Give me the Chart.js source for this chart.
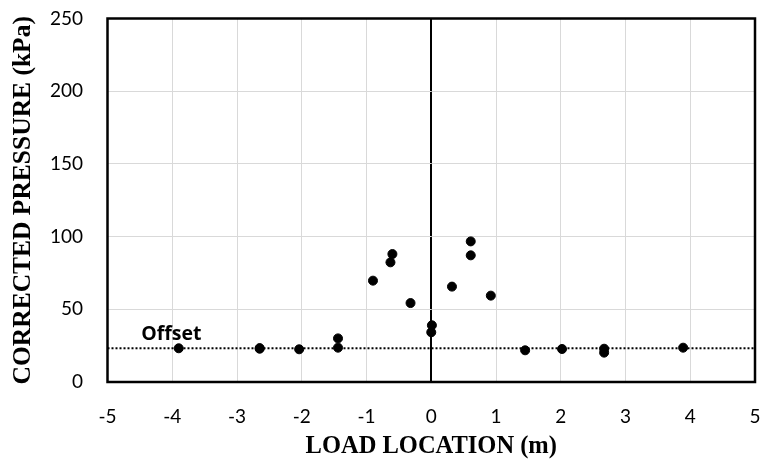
<!DOCTYPE html>
<html><head><meta charset="utf-8">
<script src="https://cdn.jsdelivr.net/npm/chart.js@4"></script>
<style>html,body{margin:0;padding:0;background:#fff}#wrap{width:763px;height:463px}</style>
</head><body><div id="wrap"><canvas id="c" width="763" height="463"></canvas></div>
<script>
const loadLocation = [-3.9, -2.65, -2.65, -2.04, -1.44, -1.44, -0.90, -0.63, -0.60, -0.32, 0.0, 0.01, 0.32, 0.61, 0.61, 0.92, 1.45, 2.02, 2.67, 2.67, 3.89];
const pressure     = [23.2, 22.9, 23.3, 22.5, 30.0, 23.6, 69.7, 82.3, 88.0, 54.3, 34.2, 39.0, 65.6, 96.7, 87.1, 59.4, 21.8, 22.7, 22.9, 20.2, 23.6];
const offsetX = [-5, 5];
const offsetY = [23.2, 23.2];
const offsetLabel = "Offset";
const xTicks = [-5,-4,-3,-2,-1,0,1,2,3,4,5];
const yTicks = [0,50,100,150,200,250];

const tickFont = {family: "Lato, 'Open Sans', sans-serif", size: 19};

function zeroPad(s) { s.paddingTop = 0; s.paddingBottom = 0; s.paddingLeft = 0; s.paddingRight = 0; }

const frame = {
  id: 'frame',
  afterDatasetsDraw(chart) {
    const {ctx, chartArea: a, scales} = chart;
    ctx.save();
    ctx.strokeStyle = '#000';
    ctx.lineWidth = 2.5;
    ctx.strokeRect(a.left, a.top, a.right - a.left, a.bottom - a.top);
    ctx.fillStyle = '#000';
    ctx.font = "bold 19.5px 'Open Sans', Lato, sans-serif";
    ctx.textBaseline = 'alphabetic';
    ctx.textAlign = 'left';
    ctx.fillText(offsetLabel, scales.x.getPixelForValue(-4.48), scales.y.getPixelForValue(offsetY[0]) - 8);
    ctx.restore();
  }
};

new Chart(document.getElementById('c'), {
  type: 'scatter',
  data: {
    datasets: [
      {
        data: loadLocation.map((x, i) => ({x, y: pressure[i]})),
        backgroundColor: '#000', borderColor: '#000',
        pointRadius: 4.5, pointHoverRadius: 4.5, order: 1
      },
      {
        type: 'line',
        data: offsetX.map((x, i) => ({x, y: offsetY[i]})),
        borderColor: '#000', borderWidth: 2, borderDash: [2, 2],
        pointRadius: 0, fill: false, order: 2
      }
    ]
  },
  plugins: [frame],
  options: {
    responsive: false, animation: false,
    devicePixelRatio: 1,
    layout: {autoPadding: false, padding: {left: 0, right: 8, top: 18.5, bottom: 0}},
    plugins: {legend: {display: false}, tooltip: {enabled: false}},
    scales: {
      x: {
        type: 'linear', min: -5, max: 5,
        afterBuildTicks(s) { s.ticks = xTicks.map(v => ({value: v})); },
        afterFit(s) { s.height = 81; zeroPad(s); },
        grid: {
          color: c => c.tick && c.tick.value === 0 ? '#000' : '#d9d9d9',
          lineWidth: c => c.tick && c.tick.value === 0 ? 2 : 1,
          drawTicks: false
        },
        border: {display: false},
        ticks: {color: '#000', font: tickFont, padding: 23, maxRotation: 0},
        title: {display: true, text: 'LOAD LOCATION (m)', color: '#000',
          font: {family: "'Liberation Serif', 'Times New Roman', serif", size: 24.5, weight: 'bold'},
          padding: {top: 0, bottom: 2}}
      },
      y: {
        type: 'linear', min: 0, max: 250,
        afterBuildTicks(s) { s.ticks = yTicks.map(v => ({value: v})); },
        afterFit(s) { s.width = 107.5; zeroPad(s); },
        grid: {color: '#d9d9d9', lineWidth: 1, drawTicks: false},
        border: {display: false},
        ticks: {color: '#000', font: tickFont, padding: 24.5},
        title: {display: true, text: 'CORRECTED PRESSURE (kPa)', color: '#000',
          font: {family: "'Liberation Serif', 'Times New Roman', serif", size: 25.5, weight: 'bold'},
          padding: {top: 8, bottom: 0}}
      }
    }
  }
});
</script></body></html>
